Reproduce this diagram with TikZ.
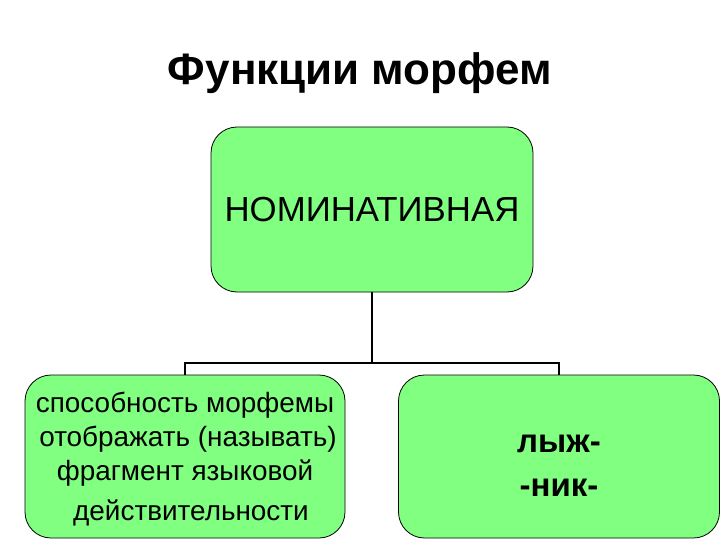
\documentclass[tikz,border=0pt]{standalone}
\usepackage{fontspec}
\setmainfont{Liberation Sans}
\usepackage{tikz}
\definecolor{boxgreen}{HTML}{80FF80}

\begin{document}
\begin{tikzpicture}[x=1pt,y=-1pt,
	box/.style={draw,fill=boxgreen,rounded corners=26pt,line width=0.8pt,
		minimum width=320pt,minimum height=163pt,inner sep=0pt,align=center},
	link/.style={line width=1.8pt}]
	\useasboundingbox (0,0) rectangle (720,540);
	\node[font=\fontsize{44}{50}\selectfont\bfseries] (title) at (360,73) {Функции морфем};
	\node[box,minimum width=322pt,minimum height=165pt,font=\fontsize{34.8}{40}\selectfont]
		(nom) at (372,209.5) {НОМИНАТИВНАЯ};
	\node[box,font=\fontsize{27.9}{34}\selectfont,text depth=0pt] (abil) at (185,456.5)
		{\rule{0pt}{8pt}способность морфемы\\
		\hspace*{6pt}отображать (называть)\\
		фрагмент языковой\\[6pt]
		\hspace*{12pt}действительности};
	\node[box,minimum width=321pt,font=\fontsize{33}{42}\selectfont\bfseries]
		(ex) at (559,456.5) {\rule{0pt}{36pt}лыж-\\[2pt]-ник-};
	\coordinate (fork) at (372,363);
	\draw[link] (nom.south) -- (fork);
	\draw[link] (abil.north) |- (fork) -| (ex.north);
\end{tikzpicture}
\end{document}
